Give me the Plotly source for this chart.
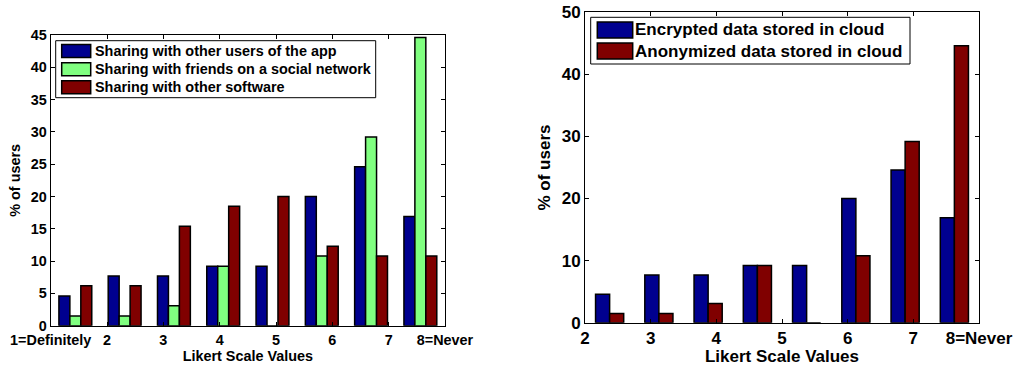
import numpy as np
import plotly.graph_objects as go

# Likert responses (1 = definitely ... 8 = never), % of users
groups = [1, 2, 3, 4, 5, 6, 7, 8]

left_names = [
    "Sharing with other users of the app",
    "Sharing with friends on a social network",
    "Sharing with other software",
]
share_app_users = [4.6, 7.7, 7.7, 9.2, 9.2, 20.0, 24.6, 16.9]
share_social = [1.5, 1.5, 3.1, 9.2, 0.0, 10.8, 29.2, 44.6]
share_software = [6.2, 6.2, 15.4, 18.5, 20.0, 12.3, 10.8, 10.8]
left_ticktext = ["1=Definitely", "2", "3", "4", "5", "6", "7", "8=Never"]

right_names = [
    "Encrypted data stored in cloud",
    "Anonymized data stored in cloud",
]
cloud_encrypted = [4.6, 7.7, 7.7, 9.2, 9.2, 20.0, 24.6, 16.9]
cloud_anonymized = [1.5, 1.5, 3.1, 9.2, 0.0, 10.8, 29.2, 44.6]
right_ticktext = ["2", "3", "4", "5", "6", "7", "8=Never"]

BLUE = "#00008F"
GREEN = "#80FF80"
RED = "#800000"

W, H = 1016, 366
FONT = "Liberation Sans, Arial, Helvetica, sans-serif"
LS, RS = 14.4, 17  # text sizes of the left and right panels


def px_x(x):
    return x / W


def px_y(y):
    return 1 - y / H


fig = go.Figure()


def add_group(series, names, colors, xaxis, yaxis):
    n = len(series)
    group_w = min(0.8, n / (n + 1.5))
    w = group_w / n
    for i, (vals, name, col) in enumerate(zip(series, names, colors)):
        fig.add_trace(go.Bar(
            x=groups, y=vals, name=name,
            width=w, offset=-group_w / 2 + i * w,
            marker=dict(color=col, line=dict(color="black", width=1.5)),
            xaxis=xaxis, yaxis=yaxis, showlegend=False,
        ))


add_group([share_app_users, share_social, share_software], left_names,
          [BLUE, GREEN, RED], "x", "y")
add_group([cloud_encrypted, cloud_anonymized], right_names,
          [BLUE, RED], "x2", "y2")


def axis_common(size):
    return dict(
        showline=True, linecolor="black", linewidth=1, mirror="ticks",
        ticks="inside", ticklen=4, tickcolor="black", tickwidth=1,
        showgrid=False, zeroline=False, automargin=False,
        tickfont=dict(family=FONT, size=size, color="black", weight="bold"),
    )


# panel boxes (pixels)
L = dict(x0=50.7, x1=445.0, y0=35.0, y1=325.7)
R = dict(x0=585.0, x1=979.0, y0=12.3, y1=322.7)

fig.update_layout(
    width=W, height=H,
    margin=dict(l=0, r=0, t=0, b=0, autoexpand=False),
    paper_bgcolor="white", plot_bgcolor="white",
    barmode="overlay",
    font=dict(family=FONT, size=LS, color="black", weight="bold"),
    xaxis=dict(
        domain=[px_x(L["x0"]), px_x(L["x1"])], anchor="y",
        range=[0.5, 8.5], tickmode="array",
        tickvals=list(np.linspace(0.5, 8.5, len(left_ticktext))),
        ticktext=left_ticktext, ticklabelstandoff=1,
        title=dict(text="Likert Scale Values", standoff=1,
                   font=dict(family=FONT, size=LS, weight="bold")),
        **axis_common(LS),
    ),
    yaxis=dict(
        domain=[px_y(L["y1"]), px_y(L["y0"])], anchor="x",
        range=[0, 45], dtick=5,
        title=dict(text="% of users", standoff=6,
                   font=dict(family=FONT, size=LS, weight="bold")),
        **axis_common(LS),
    ),
    xaxis2=dict(
        domain=[px_x(R["x0"]), px_x(R["x1"])], anchor="y2",
        range=[0.5, 8.5], tickmode="array",
        tickvals=list(np.linspace(0.5, 8.5, len(right_ticktext))),
        ticktext=right_ticktext,
        title=dict(text="Likert Scale Values", standoff=2,
                   font=dict(family=FONT, size=RS, weight="bold")),
        **axis_common(RS),
    ),
    yaxis2=dict(
        domain=[px_y(R["y1"]), px_y(R["y0"])], anchor="x2",
        range=[0, 50], dtick=10,
        title=dict(text="% of users", standoff=6,
                   font=dict(family=FONT, size=RS, weight="bold")),
        **axis_common(RS),
    ),
)

# legends drawn as framed boxes with wide swatches
shapes = []
annotations = []


def add_legend(box, names, colors, sw_x0, sw_x1, row_centers, sw_h, text_x, size):
    shapes.append(dict(type="rect", xref="paper", yref="paper",
                       x0=px_x(box[0]), x1=px_x(box[1]),
                       y0=px_y(box[3]), y1=px_y(box[2]),
                       line=dict(color="black", width=1), fillcolor="white"))
    for name, col, cy in zip(names, colors, row_centers):
        shapes.append(dict(type="rect", xref="paper", yref="paper",
                           x0=px_x(sw_x0), x1=px_x(sw_x1),
                           y0=px_y(cy + sw_h / 2), y1=px_y(cy - sw_h / 2),
                           line=dict(color="black", width=1.5), fillcolor=col))
        annotations.append(dict(text=name, xref="paper", yref="paper",
                                x=px_x(text_x), y=px_y(cy), xanchor="left",
                                yanchor="middle", showarrow=False,
                                font=dict(family=FONT, size=size, color="black",
                                          weight="bold")))


add_legend((55.7, 375.7, 40.7, 97.7), left_names, [BLUE, GREEN, RED],
           61.7, 90.7, [51.0, 69.3, 87.3], 13, 93, LS)
add_legend((590.7, 910.0, 17.3, 64.0), right_names, [BLUE, RED],
           597.3, 632.7, [30.0, 51.0], 16, 633, RS)

fig.update_layout(shapes=shapes, annotations=annotations)

fig.write_html("out.html")
